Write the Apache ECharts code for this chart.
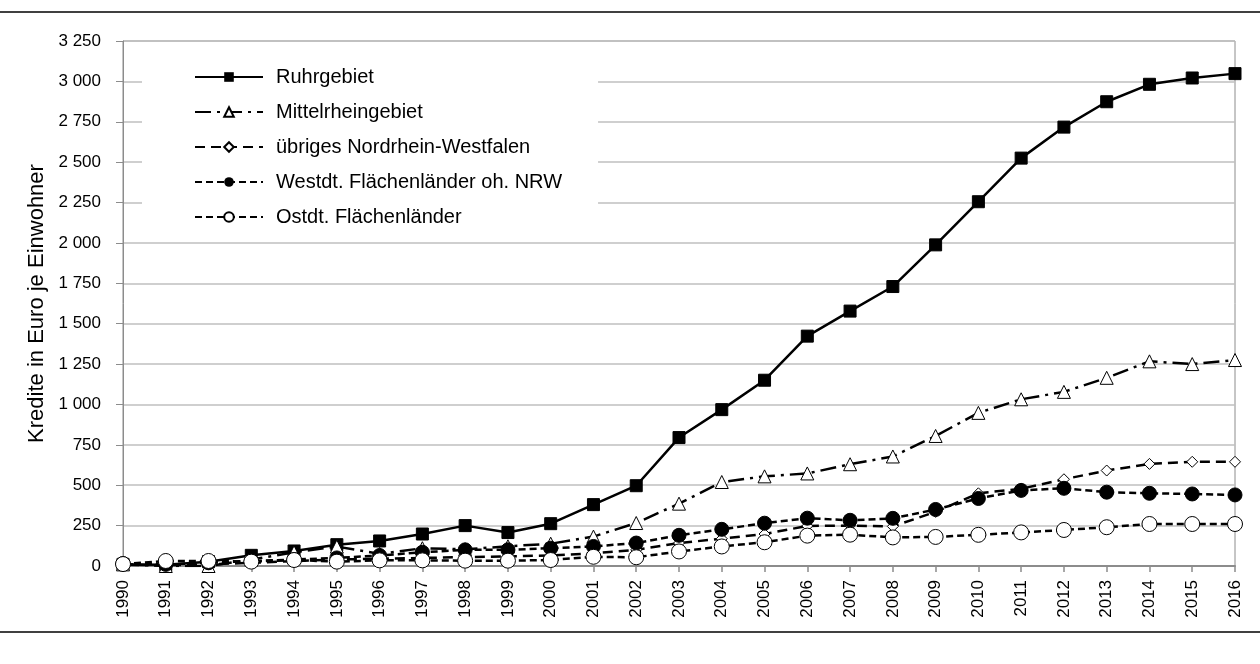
<!DOCTYPE html>
<html>
<head>
<meta charset="utf-8">
<script src="https://cdn.jsdelivr.net/npm/echarts@6/dist/echarts.min.js"></script>
<style>
  html, body { margin: 0; padding: 0; background: #fff; }
  #chart { width: 1260px; height: 664px; }
</style>
</head>
<body>
<div id="chart"></div>
<script>
// Jahre (x-Achse)
var years = ['1990', '1991', '1992', '1993', '1994', '1995', '1996', '1997', '1998', '1999',
  '2000', '2001', '2002', '2003', '2004', '2005', '2006', '2007', '2008', '2009',
  '2010', '2011', '2012', '2013', '2014', '2015', '2016'];

// Kredite in Euro je Einwohner
var ruhr = [10, 8, 27, 66, 93, 132, 155, 198, 250, 207,
  262, 380, 497, 795, 968, 1150, 1423, 1578, 1730, 1988,
  2255, 2525, 2717, 2874, 2982, 3021, 3048];
var mittelrhein = [10, 0, 0, 40, 85, 120, 75, 110, 103, 122,
  138, 182, 266, 386, 520, 555, 573, 630, 678, 805,
  948, 1032, 1078, 1165, 1267, 1250, 1275];
var uebrigesNrw = [10, 5, 10, 20, 30, 40, 45, 50, 55, 60,
  65, 79, 100, 142, 169, 198, 248, 250, 245, 335,
  450, 478, 537, 591, 632, 645, 645];
var westdt = [15, 10, 20, 30, 40, 50, 65, 85, 100, 100,
  110, 121, 142, 190, 227, 265, 296, 283, 295, 350,
  418, 468, 481, 457, 450, 446, 440];
var ostdt = [12, 31, 31, 27, 37, 27, 35, 35, 33, 33,
  37, 57, 54, 90, 121, 147, 188, 194, 177, 180,
  193, 208, 223, 240, 260, 260, 260];

var seriesNames = ['Ruhrgebiet', 'Mittelrheingebiet', 'übriges Nordrhein-Westfalen',
  'Westdt. Flächenländer oh. NRW', 'Ostdt. Flächenländer'];

// y-Achse: 3250 -> "3 250"
function fmtNum(v) {
  if (v >= 1000) {
    var rest = String(v % 1000);
    while (rest.length < 3) rest = '0' + rest;
    return Math.floor(v / 1000) + ' ' + rest;
  }
  return String(v);
}

var chart = echarts.init(document.getElementById('chart'));

var option = {
  backgroundColor: '#fff',
  animation: false,
  textStyle: { fontFamily: 'Liberation Sans, Arial, sans-serif', color: '#000' },
  grid: {
    left: 123,
    right: 25,
    top: 41,
    bottom: 98,
    show: true,
    borderColor: '#8c8c8c',
    borderWidth: 1
  },
  legend: {
    data: seriesNames,
    orient: 'vertical',
    left: 142,
    top: 55,
    padding: [12, 36, 12, 52],
    backgroundColor: '#fff',
    itemWidth: 68,
    itemHeight: 12,
    itemGap: 15,
    selectedMode: false,
    textStyle: {
      fontSize: 20,
      color: '#000',
      padding: [0, 0, 0, 8]
    }
  },
  xAxis: {
    type: 'category',
    data: years,
    boundaryGap: false,
    axisLine: { lineStyle: { color: '#8c8c8c', width: 2 } },
    axisTick: { show: true, length: 6, interval: 0, lineStyle: { color: '#8c8c8c', width: 1.5 } },
    axisLabel: {
      interval: 0,
      rotate: 90,
      fontSize: 17,
      color: '#000',
      margin: 14
    },
    splitLine: { show: false }
  },
  yAxis: {
    type: 'value',
    min: 0,
    max: 3250,
    interval: 250,
    name: 'Kredite in Euro je Einwohner',
    nameLocation: 'middle',
    nameGap: 73,
    nameTextStyle: { fontSize: 22, color: '#000' },
    axisLine: { show: true, lineStyle: { color: '#8c8c8c', width: 1 } },
    axisTick: { show: true, length: 7, lineStyle: { color: '#8c8c8c' } },
    axisLabel: {
      fontSize: 17,
      color: '#000',
      margin: 22,
      formatter: fmtNum
    },
    splitLine: { show: true, lineStyle: { color: '#bfbfbf', width: 1.5 } }
  },
  graphic: [
    { type: 'line', shape: { x1: 0, y1: 12, x2: 1260, y2: 12 }, style: { stroke: '#000', lineWidth: 1.5 } },
    { type: 'line', shape: { x1: 0, y1: 632, x2: 1260, y2: 632 }, style: { stroke: '#000', lineWidth: 1.5 } }
  ],
  series: [
    {
      name: seriesNames[0],
      type: 'line',
      data: ruhr,
      symbol: 'rect',
      symbolSize: 12,
      itemStyle: { color: '#000', borderColor: '#000' },
      lineStyle: { color: '#000', width: 2.5, type: 'solid' }
    },
    {
      name: seriesNames[1],
      type: 'line',
      data: mittelrhein,
      symbol: 'triangle',
      symbolSize: 13,
      itemStyle: { color: '#fff', borderColor: '#000', borderWidth: 1 },
      lineStyle: { color: '#000', width: 2.5, type: [16, 6, 3, 6] }
    },
    {
      name: seriesNames[2],
      type: 'line',
      data: uebrigesNrw,
      symbol: 'diamond',
      symbolSize: 11,
      itemStyle: { color: '#fff', borderColor: '#000', borderWidth: 1 },
      lineStyle: { color: '#000', width: 2.5, type: [10, 6] }
    },
    {
      name: seriesNames[3],
      type: 'line',
      data: westdt,
      symbol: 'circle',
      symbolSize: 14,
      itemStyle: { color: '#000', borderColor: '#000' },
      lineStyle: { color: '#000', width: 2.5, type: [7, 4] }
    },
    {
      name: seriesNames[4],
      type: 'line',
      data: ostdt,
      symbol: 'circle',
      symbolSize: 15,
      itemStyle: { color: '#fff', borderColor: '#000', borderWidth: 1 },
      lineStyle: { color: '#000', width: 2.5, type: [7, 4] }
    }
  ]
};

chart.setOption(option);
</script>
</body>
</html>
